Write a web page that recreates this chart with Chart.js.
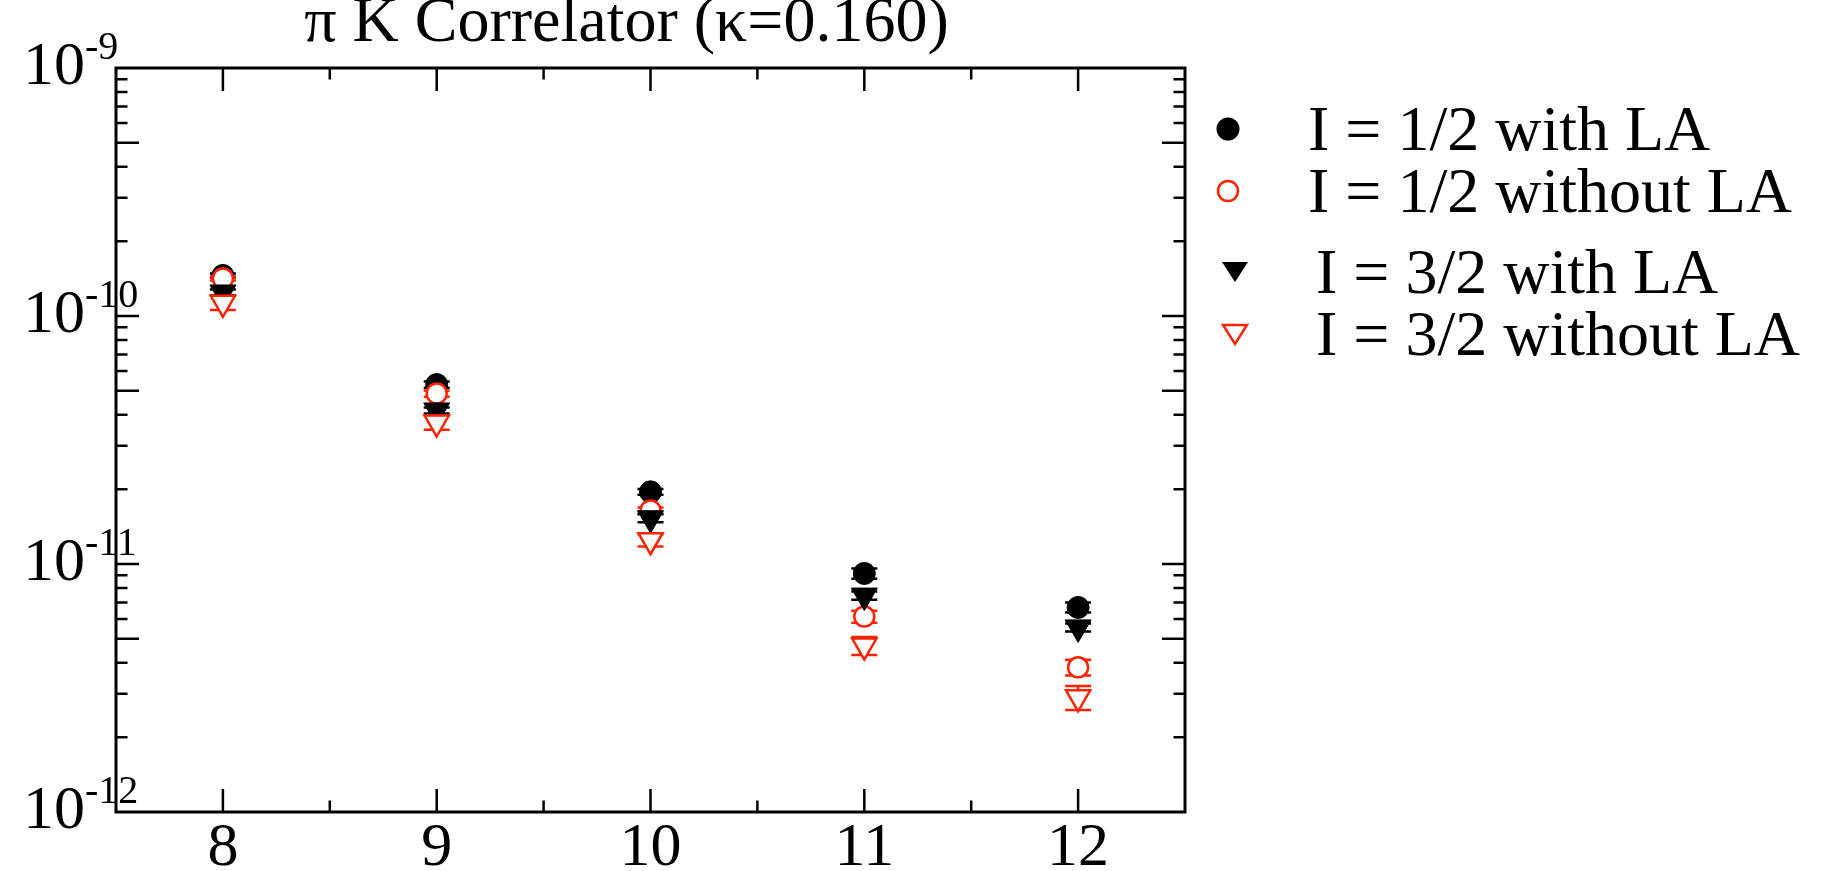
<!DOCTYPE html>
<html>
<head>
<meta charset="utf-8">
<title>pi K Correlator</title>
<script src="https://cdn.jsdelivr.net/npm/chart.js@4.4.0/dist/chart.umd.min.js"></script>
<style>
  html, body { margin: 0; padding: 0; background: #fff; }
  #wrap { position: relative; width: 1827px; height: 871px; overflow: hidden; }
  #chart { position: absolute; left: 0; top: 0; }
  .legend-row {
    position: absolute;
    height: 64px;
    line-height: 64px;
    font-family: 'Liberation Serif', 'Times New Roman', serif;
    font-size: 64px;
    color: #000;
    white-space: nowrap;
  }
  .legend-mark { position: absolute; width: 30px; height: 30px; }
</style>
</head>
<body>
<div id="wrap">
  <canvas id="chart" width="1827" height="871"></canvas>
  <div id="legend"></div>
</div>
<script>
// time slices
const tValues = [8, 9, 10, 11, 12];

// correlator values
const halfWithLA = [1.457e-10, 5.29e-11, 1.954e-11, 9.16e-12, 6.68e-12];
const halfWithoutLA = [1.416e-10, 4.87e-11, 1.643e-11, 6.14e-12, 3.83e-12];
const threeHalfWithLA = [1.244e-10, 4.16e-11, 1.530e-11, 7.46e-12, 5.55e-12];
const threeHalfWithoutLA = [1.130e-10, 3.72e-11, 1.247e-11, 4.69e-12, 2.90e-12];

// error bars
const halfWithLAErr = [2.7e-12, 1.5e-12, 5.4e-13, 4.3e-13, 3.1e-13];
const halfWithoutLAErr = [2.6e-12, 1.4e-12, 4.6e-13, 3.4e-13, 2.8e-13];
const threeHalfWithLAErr = [3.5e-12, 1.2e-12, 5.7e-13, 2.8e-13, 2.1e-13];
const threeHalfWithoutLAErr = [7.3e-12, 2.4e-12, 7.0e-13, 3.9e-13, 3.2e-13];

const seriesLabels = ['I = 1/2 with LA', 'I = 1/2 without LA', 'I = 3/2 with LA', 'I = 3/2 without LA'];

// ticks
const xTicks = [8, 9, 10, 11, 12];
const xMinorTicks = [8.5, 9.5, 10.5, 11.5];
const yDecadeExps = [-9, -10, -11, -12];
const yMajorTicks = [5e-10, 1e-10, 5e-11, 1e-11, 5e-12];
const yMinorTicks = [
  9e-10, 8e-10, 7e-10, 6e-10, 4e-10, 3e-10, 2e-10,
  9e-11, 8e-11, 7e-11, 6e-11, 4e-11, 3e-11, 2e-11,
  9e-12, 8e-12, 7e-12, 6e-12, 4e-12, 3e-12, 2e-12
];

const SERIF = "'Liberation Serif', 'Times New Roman', serif";
const RED = '#ff2200';
const seriesColors = ['#000000', RED, '#000000', RED];
const errorSets = [halfWithLAErr, halfWithoutLAErr, threeHalfWithLAErr, threeHalfWithoutLAErr];

function toPoints(vals) {
    return vals.map((v, i) => ({ x: tValues[i], y: v }));
}

// error bars drawn just before each dataset's markers
const errorBars = {
    id: 'errorBars',
    beforeDatasetDraw(chart, args) {
        const { ctx, scales: { x, y } } = chart;
        const pts = chart.data.datasets[args.index].data;
        const errs = errorSets[args.index];
        ctx.save();
        ctx.strokeStyle = seriesColors[args.index];
        ctx.lineWidth = 2.5;
        ctx.beginPath();
        pts.forEach((p, j) => {
            const px = x.getPixelForValue(p.x);
            const y1 = y.getPixelForValue(p.y + errs[j]);
            const y2 = y.getPixelForValue(p.y - errs[j]);
            ctx.moveTo(px, y1); ctx.lineTo(px, y2);
            ctx.moveTo(px - 13, y1); ctx.lineTo(px + 13, y1);
            ctx.moveTo(px - 13, y2); ctx.lineTo(px + 13, y2);
        });
        ctx.stroke();
        ctx.restore();
    }
};

// box frame with inward ticks on all sides + 10^n labels
const frame = {
    id: 'frame',
    afterDraw(chart) {
        const { ctx, chartArea: a, scales: { x, y } } = chart;
        ctx.save();
        ctx.strokeStyle = '#000';
        ctx.lineWidth = 3;
        ctx.strokeRect(a.left, a.top, a.right - a.left, a.bottom - a.top);

        ctx.lineWidth = 2.5;
        ctx.beginPath();
        const xt = (v, len) => {
            const px = x.getPixelForValue(v);
            ctx.moveTo(px, a.bottom); ctx.lineTo(px, a.bottom - len);
            ctx.moveTo(px, a.top); ctx.lineTo(px, a.top + len);
        };
        const yt = (v, len) => {
            const py = y.getPixelForValue(v);
            ctx.moveTo(a.left, py); ctx.lineTo(a.left + len, py);
            ctx.moveTo(a.right, py); ctx.lineTo(a.right - len, py);
        };
        xTicks.forEach(v => xt(v, 23));
        xMinorTicks.forEach(v => xt(v, 11.5));
        yMajorTicks.forEach(v => yt(v, 23));
        yMinorTicks.forEach(v => yt(v, 11.5));
        ctx.stroke();

        ctx.fillStyle = '#000';
        ctx.textBaseline = 'alphabetic';
        yDecadeExps.forEach(e => {
            const py = y.getPixelForValue(Math.pow(10, e));
            ctx.font = '62px ' + SERIF;
            ctx.textAlign = 'right';
            ctx.fillText('10', a.left - 31, py + 16);
            ctx.font = '40px ' + SERIF;
            ctx.textAlign = 'left';
            ctx.fillText(String(e), a.left - 31, py - 9);
        });
        ctx.restore();
    }
};

const datasets = [
    {
        label: seriesLabels[0], data: toPoints(halfWithLA),
        pointStyle: 'circle', pointRadius: 11, pointBorderWidth: 1,
        pointBackgroundColor: '#000', pointBorderColor: '#000', order: 3
    },
    {
        label: seriesLabels[1], data: toPoints(halfWithoutLA),
        pointStyle: 'circle', pointRadius: 10, pointBorderWidth: 2.5,
        pointBackgroundColor: '#fff', pointBorderColor: RED, order: 2
    },
    {
        label: seriesLabels[2], data: toPoints(threeHalfWithLA),
        pointStyle: 'triangle', pointRotation: 180, pointRadius: 15, pointBorderWidth: 1,
        pointBackgroundColor: '#000', pointBorderColor: '#000', order: 1
    },
    {
        label: seriesLabels[3], data: toPoints(threeHalfWithoutLA),
        pointStyle: 'triangle', pointRotation: 180, pointRadius: 14, pointBorderWidth: 2.5,
        pointBackgroundColor: '#fff', pointBorderColor: RED, order: 0
    }
];

new Chart(document.getElementById('chart'), {
    type: 'scatter',
    data: { datasets: datasets },
    options: {
        responsive: false,
        animation: false,
        events: [],
        devicePixelRatio: 1,
        layout: { padding: { left: 0, right: 642, top: 0, bottom: 0 } },
        scales: {
            x: {
                type: 'linear',
                min: 7.5,
                max: 12.5,
                afterBuildTicks: (s) => { s.ticks = xTicks.map(v => ({ value: v })); },
                afterFit: (s) => { s.height = 59; },
                grid: { display: false, drawTicks: false },
                border: { display: false },
                ticks: {
                    color: '#000',
                    padding: 0,
                    maxRotation: 0,
                    font: { family: SERIF, size: 62 },
                    callback: (v) => String(v)
                }
            },
            y: {
                type: 'logarithmic',
                min: 1e-12,
                max: 1e-9,
                afterFit: (s) => { s.width = 116; },
                grid: { display: false, drawTicks: false },
                border: { display: false },
                ticks: { display: false }
            }
        },
        plugins: {
            legend: { display: false },
            tooltip: { enabled: false },
            title: {
                display: true,
                fullSize: false,
                text: 'π K Correlator (κ=0.160)   ',
                color: '#000',
                font: { family: SERIF, size: 64, weight: 'normal', lineHeight: 0.75 },
                padding: { top: 0, bottom: 20 }
            }
        }
    },
    plugins: [errorBars, frame]
});

// legend (irregular row spacing like the original)
const legendLayout = [
    { y: 129, mx: 1228, tx: 1308 },
    { y: 191, mx: 1228, tx: 1308 },
    { y: 272, mx: 1235, tx: 1316 },
    { y: 334, mx: 1235, tx: 1316 }
];
const legendMarks = [
    '<circle cx="15" cy="15" r="11.5" fill="#000"/>',
    '<circle cx="15" cy="15" r="10" fill="#fff" stroke="' + RED + '" stroke-width="2.5"/>',
    '<polygon points="2,5 28,5 15,25" fill="#000"/>',
    '<polygon points="3,6 27,6 15,25" fill="#fff" stroke="' + RED + '" stroke-width="2.5"/>'
];
const legendDiv = document.getElementById('legend');
seriesLabels.forEach((lbl, i) => {
    const L = legendLayout[i];
    const mark = document.createElement('div');
    mark.className = 'legend-mark';
    mark.style.left = (L.mx - 15) + 'px';
    mark.style.top = (L.y - 15) + 'px';
    mark.innerHTML = '<svg width="30" height="30" viewBox="0 0 30 30">' + legendMarks[i] + '</svg>';
    legendDiv.appendChild(mark);

    const row = document.createElement('div');
    row.className = 'legend-row';
    row.style.left = L.tx + 'px';
    row.style.top = (L.y - 32) + 'px';
    row.textContent = lbl;
    legendDiv.appendChild(row);
});
</script>
</body>
</html>
